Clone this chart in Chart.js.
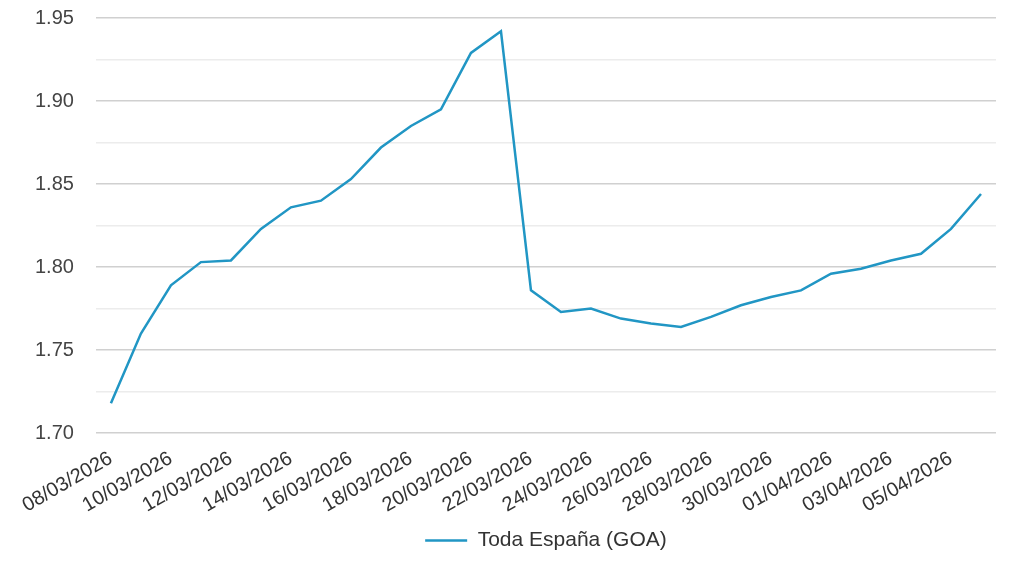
<!DOCTYPE html>
<html>
<head>
<meta charset="utf-8">
<script src="https://cdn.jsdelivr.net/npm/chart.js@4/dist/chart.umd.min.js"></script>
<style>
    html, body { margin: 0; padding: 0; background: #fff; }
    #wrap { width: 1030px; height: 561px; }
</style>
</head>
<body>
<div id="wrap"><canvas id="priceChart"></canvas></div>
<script>
// dates, one per day
const dates = [
    '08/03/2026', '09/03/2026', '10/03/2026', '11/03/2026', '12/03/2026', '13/03/2026',
    '14/03/2026', '15/03/2026', '16/03/2026', '17/03/2026', '18/03/2026', '19/03/2026',
    '20/03/2026', '21/03/2026', '22/03/2026', '23/03/2026', '24/03/2026', '25/03/2026',
    '26/03/2026', '27/03/2026', '28/03/2026', '29/03/2026', '30/03/2026', '31/03/2026',
    '01/04/2026', '02/04/2026', '03/04/2026', '04/04/2026', '05/04/2026', '06/04/2026'
];

// Toda España (GOA) price
const goaPrices = [
    1.718, 1.760, 1.789, 1.803, 1.804, 1.823,
    1.836, 1.840, 1.853, 1.872, 1.885, 1.895,
    1.929, 1.942, 1.786, 1.773, 1.775, 1.769,
    1.766, 1.764, 1.770, 1.777, 1.782, 1.786,
    1.796, 1.799, 1.804, 1.808, 1.823, 1.844
];

const seriesLabel = 'Toda España (GOA)';
const yMin = 1.70;
const yMax = 1.95;

const fontFamily = '"Liberation Sans", Arial, sans-serif';

document.addEventListener("DOMContentLoaded", function() {
    const ctx = document.getElementById('priceChart').getContext('2d');

    new Chart(ctx, {
        type: 'line',
        data: {
            labels: dates,
            datasets: [{
                label: seriesLabel,
                data: goaPrices,
                borderColor: '#2196c4',
                backgroundColor: '#2196c4',
                borderWidth: 2.5,
                pointRadius: 0,
                tension: 0,
                fill: false
            }]
        },
        options: {
            responsive: true,
            maintainAspectRatio: false,
            animation: false,
            layout: { padding: { left: 13, right: 34, top: 18, bottom: 0 } },
            plugins: {
                legend: {
                    position: 'bottom',
                    fullSize: false, // center it under the plot area
                    labels: {
                        usePointStyle: true,
                        pointStyle: 'line',
                        pointStyleWidth: 42,
                        color: '#333',
                        font: { family: fontFamily, size: 21 },
                        padding: 7
                    }
                },
                tooltip: { enabled: false }
            },
            scales: {
                x: {
                    offset: true,
                    grid: { display: false },
                    border: { display: false },
                    ticks: {
                        autoSkip: false,
                        minRotation: 30,
                        maxRotation: 30,
                        padding: 5.5,
                        color: '#333',
                        font: { family: fontFamily, size: 20 },
                        callback: function(value, index) {
                            // only every other date gets a label
                            return index % 2 === 0 ? this.getLabelForValue(value) : '';
                        }
                    }
                },
                y: {
                    min: yMin,
                    max: yMax,
                    border: { display: false },
                    afterFit: function(scale) {
                        // top label may stick out, we keep the plot high
                        scale.paddingTop = 0;
                    },
                    grid: {
                        drawTicks: false,
                        lineWidth: 1.5,
                        color: function(c) {
                            // darker lines on the labelled ticks
                            const v = Math.round(c.tick.value * 1000);
                            return v % 50 === 0 ? '#d0d0d0' : '#ececec';
                        }
                    },
                    ticks: {
                        stepSize: 0.025,
                        padding: 22,
                        color: '#444',
                        font: { family: fontFamily, size: 20 },
                        callback: function(value) {
                            const v = Math.round(value * 1000);
                            return v % 50 === 0 ? value.toFixed(2) : '';
                        }
                    }
                }
            }
        }
    });
});
</script>
</body>
</html>
